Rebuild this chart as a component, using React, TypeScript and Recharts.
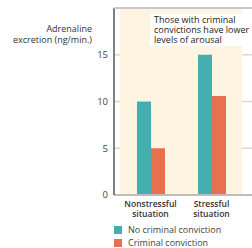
import { Bar, BarChart, CartesianGrid, XAxis, YAxis, ReferenceArea } from "recharts";

const TEAL = "#45aeb1";
const ORANGE = "#e8704f";
const FONT = "'Open Sans', sans-serif";

const situations = ["Nonstressful situation", "Stressful situation"];
const noConviction = [10, 15];
const conviction = [5, 10.6];
const yTicks = [0, 5, 10, 15];
const seriesNames = ["No criminal conviction", "Criminal conviction"];

const data = situations.map((s, i) => ({
  situation: s,
  none: noConviction[i],
  criminal: conviction[i],
}));

function SituationTick({ x, y, payload }: { x?: number; y?: number; payload?: { value: string } }) {
  if (x === undefined || y === undefined || !payload) return null;
  const [first, ...rest] = payload.value.split(" ");
  return (
    <text x={x} y={y} textAnchor="middle" style={{ fontSize: 8.5, fontWeight: 600, fill: "#333", fontFamily: FONT }}>
      <tspan x={x} dy={4}>{first}</tspan>
      <tspan x={x} dy={10}>{rest.join(" ")}</tspan>
    </text>
  );
}

function LegendBox() {
  const colors = [TEAL, ORANGE];
  return (
    <div
      style={{
        position: "absolute",
        left: 114,
        top: 223,
        fontFamily: FONT,
        fontSize: 9,
        color: "#444",
      }}
    >
      {seriesNames.map((label, i) => (
        <div key={label} style={{ display: "flex", alignItems: "center", height: 13, whiteSpace: "nowrap" }}>
          <span style={{ display: "inline-block", width: 8, height: 8, background: colors[i], marginRight: 6 }} />
          <span>{label}</span>
        </div>
      ))}
    </div>
  );
}

export default function App() {
  return (
    <div style={{ position: "absolute", left: 0, top: 0, width: 252, height: 248, overflow: "hidden", background: "#fff" }}>
      <BarChart
        width={252}
        height={248}
        data={data}
        margin={{ top: 8, right: 0, left: 84, bottom: 23 }}
        barSize={14}
        barGap={0}
      >
        <ReferenceArea y1={0} y2={20} fill="#fdf4e2" fillOpacity={1} stroke="none" ifOverflow="visible" />
        <CartesianGrid vertical={false} horizontal stroke="#e3d9c6" strokeWidth={1.5} />
        <XAxis
          dataKey="situation"
          height={30}
          padding={{ left: 6, right: 10 }}
          axisLine={{ stroke: "#bdbdbd", strokeWidth: 2 }}
          tickLine={false}
          tick={<SituationTick />}
          interval={0}
        />
        <YAxis
          width={30}
          domain={[0, 20]}
          ticks={yTicks}
          axisLine={{ stroke: "#555", strokeWidth: 1.5 }}
          tickLine={false}
          tickSize={0}
          tickMargin={6}
          tick={{ fontSize: 9.5, fill: "#444", fontFamily: FONT }}
        />
        <Bar dataKey="none" name={seriesNames[0]} fill={TEAL} isAnimationActive={false} />
        <Bar dataKey="criminal" name={seriesNames[1]} fill={ORANGE} isAnimationActive={false} />
      </BarChart>
      <LegendBox />
      {/* top border of plot */}
      <div style={{ position: "absolute", left: 114, top: 7, width: 138, height: 2, background: "#c9c9c9" }} />
      <div
        style={{
          position: "absolute",
          right: 160,
          top: 23,
          textAlign: "right",
          fontFamily: FONT,
          fontSize: 9,
          lineHeight: "11px",
          color: "#333",
          whiteSpace: "nowrap",
        }}
      >
        Adrenaline
        <br />
        excretion (ng/min.)
      </div>
      <div
        style={{
          position: "absolute",
          left: 150,
          top: 14,
          width: 92,
          height: 32,
          background: "#fff",
          fontFamily: FONT,
          fontSize: 9,
          lineHeight: "10px",
          color: "#222",
          padding: "1px 0 0 4px",
          boxSizing: "border-box",
          whiteSpace: "nowrap",
        }}
      >
        Those with criminal
        <br />
        convictions have lower
        <br />
        levels of arousal
      </div>
    </div>
  );
}
